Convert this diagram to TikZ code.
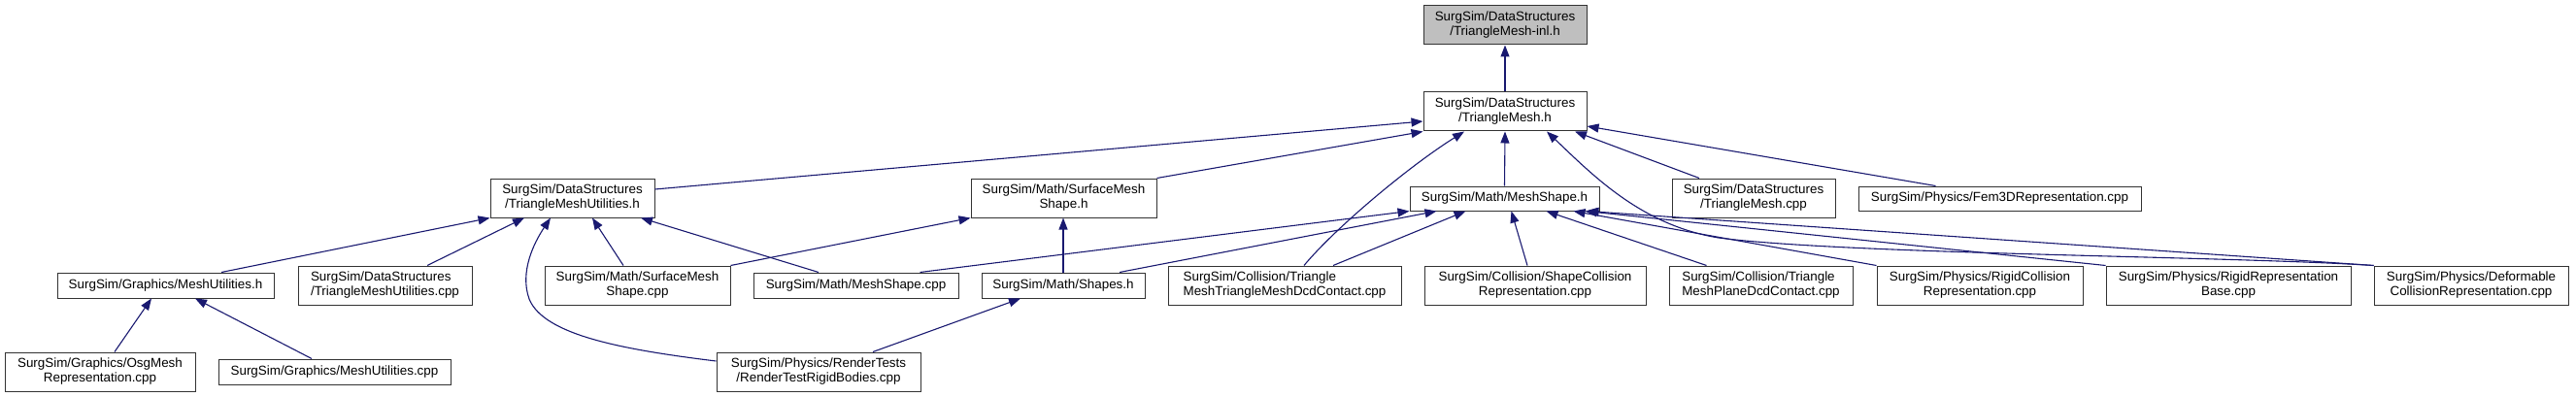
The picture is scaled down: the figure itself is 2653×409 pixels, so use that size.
\documentclass[tikz,border=0pt]{standalone}
\usepackage{fontspec}
\setmainfont{Liberation Sans}
\usetikzlibrary{arrows.meta,calc}
\definecolor{edgeblue}{HTML}{191970}
\definecolor{boxgray}{HTML}{BFBFBF}
\begin{document}
\begin{tikzpicture}[x=1pt,y=-1pt,
  box/.style={draw=black!80, line width=1pt, fill=white, inner sep=0pt, align=center,
    font=\fontsize{13.4}{15}\selectfont},
  lbox/.style={box, align=left},
  dep/.style={draw=edgeblue, line width=1.1pt, -{Triangle[length=12pt,width=9pt]}}]
\useasboundingbox (0,0) rectangle (2653,409);
% row 0
\node[box, fill=boxgray, minimum width=168pt, minimum height=40pt] (inl) at (1550,26) {SurgSim/DataStructures\\/TriangleMesh-inl.h};
% row 1
\node[box, minimum width=168pt, minimum height=40pt] (TMh) at (1550,115) {SurgSim/DataStructures\\/TriangleMesh.h};
% row 2
\node[box, minimum width=169pt, minimum height=40pt] (TMUh) at (589.5,204) {SurgSim/DataStructures\\/TriangleMeshUtilities.h};
\node[box, minimum width=191pt, minimum height=40pt] (SMSh) at (1095.5,204) {SurgSim/Math/SurfaceMesh\\Shape.h};
\node[box, minimum width=195pt, minimum height=25pt] (MSh) at (1549.5,204.5) {SurgSim/Math/MeshShape.h};
\node[box, minimum width=168pt, minimum height=40pt] (TMcpp) at (1806,204) {SurgSim/DataStructures\\/TriangleMesh.cpp};
\node[box, minimum width=291pt, minimum height=25pt] (Fem) at (2059.5,204.5) {SurgSim/Physics/Fem3DRepresentation.cpp};
% row 3
\node[box, minimum width=223pt, minimum height=26pt] (MUh) at (170.5,294) {SurgSim/Graphics/MeshUtilities.h};
\node[lbox, minimum width=179pt, minimum height=40pt] (TMUcpp) at (396.5,294) {SurgSim/DataStructures\\/TriangleMeshUtilities.cpp};
\node[box, minimum width=191pt, minimum height=40pt] (SMScpp) at (656.5,294) {SurgSim/Math/SurfaceMesh\\Shape.cpp};
\node[box, minimum width=211pt, minimum height=26pt] (MScpp) at (881.5,294) {SurgSim/Math/MeshShape.cpp};
\node[box, minimum width=168pt, minimum height=26pt] (Shapes) at (1095,294) {SurgSim/Math/Shapes.h};
\node[lbox, minimum width=240pt, minimum height=40pt] (TMTM) at (1323,294) {SurgSim/Collision/Triangle\\MeshTriangleMeshDcdContact.cpp};
\node[box, minimum width=228pt, minimum height=40pt] (ShColl) at (1581,294) {SurgSim/Collision/ShapeCollision\\Representation.cpp};
\node[lbox, minimum width=189pt, minimum height=40pt] (TMPl) at (1813.5,294) {SurgSim/Collision/Triangle\\MeshPlaneDcdContact.cpp};
\node[box, minimum width=212pt, minimum height=40pt] (RColl) at (2039,294) {SurgSim/Physics/RigidCollision\\Representation.cpp};
\node[box, minimum width=252pt, minimum height=40pt] (RRB) at (2295,294) {SurgSim/Physics/RigidRepresentation\\Base.cpp};
\node[box, minimum width=200pt, minimum height=40pt] (Def) at (2545,294) {SurgSim/Physics/Deformable\\CollisionRepresentation.cpp};
% row 4
\node[box, minimum width=196pt, minimum height=40pt] (Osg) at (103,383) {SurgSim/Graphics/OsgMesh\\Representation.cpp};
\node[box, minimum width=239pt, minimum height=26pt] (MUcpp) at (344.5,383) {SurgSim/Graphics/MeshUtilities.cpp};
\node[box, minimum width=210pt, minimum height=40pt] (RT) at (843,383) {SurgSim/Physics/RenderTests\\/RenderTestRigidBodies.cpp};

% edges into TriangleMesh-inl.h and TriangleMesh.h
\draw[dep] (TMh.north) -- (inl.south);
\draw[dep] ([yshift=9pt]TMUh.east) -- ([yshift=-10pt]TMh.west);
\draw[dep] (SMSh.north east) -- (TMh.south west);
\draw[dep] (MSh.north) -- (TMh.south);
\draw[dep] ([xshift=20pt]TMTM.north) .. controls (1375,235) and (1450,172) .. ([xshift=-42pt]TMh.south);
\draw[dep] ([xshift=-56pt]TMcpp.north) -- ([xshift=72pt]TMh.south);
\draw[dep] ([xshift=-66pt]Fem.north) -- ([yshift=-15pt]TMh.east);
\draw[dep] (Def.north west) .. controls (2300,264) and (1900,262) .. (1770,245)
  .. controls (1690,232) and (1640,180) .. ([xshift=43pt]TMh.south);
% edges into MeshShape.h
\draw[dep] ([xshift=66pt]MScpp.north) -- (MSh.south west);
\draw[dep] ([xshift=58pt]Shapes.north) -- ([xshift=28pt]MSh.south west);
\draw[dep] ([xshift=50pt]TMTM.north) -- ([xshift=-40pt]MSh.south);
\draw[dep] ([xshift=-8pt]ShColl.north) -- ([xshift=7pt]MSh.south);
\draw[dep] ([xshift=-56pt]TMPl.north) -- ([xshift=43pt]MSh.south);
\draw[dep] (RColl.north west) -- ([xshift=-27pt]MSh.south east);
\draw[dep] (RRB.north west) -- ([xshift=-15pt]MSh.south east);
\draw[dep] (Def.north west) -- ([xshift=-13pt]MSh.south east);
% edges into TriangleMeshUtilities.h
\draw[dep] ([xshift=57.5pt]MUh.north) -- (TMUh.south west);
\draw[dep] ([xshift=43.5pt]TMUcpp.north) -- ([xshift=-49.5pt]TMUh.south);
\draw[dep] ([yshift=11pt]RT.west) .. controls (640,360) and (560,345) .. (545,308)
  .. controls (535,280) and (550,250) .. ([xshift=-22.5pt]TMUh.south);
\draw[dep] ([xshift=-14.5pt]SMScpp.north) -- ([xshift=20.5pt]TMUh.south);
\draw[dep] ([xshift=-38.5pt]MScpp.north) -- ([xshift=70.5pt]TMUh.south);
% edges into SurfaceMeshShape.h
\draw[dep] (SMScpp.north east) -- (SMSh.south west);
\draw[dep] (Shapes.north) -- (Shapes.north |- SMSh.south);
% edges into Graphics/MeshUtilities.h
\draw[dep] ([xshift=15pt]Osg.north) -- ([xshift=-14.5pt]MUh.south);
\draw[dep] ([xshift=-23.5pt]MUcpp.north) -- ([xshift=30.5pt]MUh.south);
% edge into Shapes.h
\draw[dep] ([xshift=56pt]RT.north) -- ([xshift=-44pt]Shapes.south);
\end{tikzpicture}
\end{document}
